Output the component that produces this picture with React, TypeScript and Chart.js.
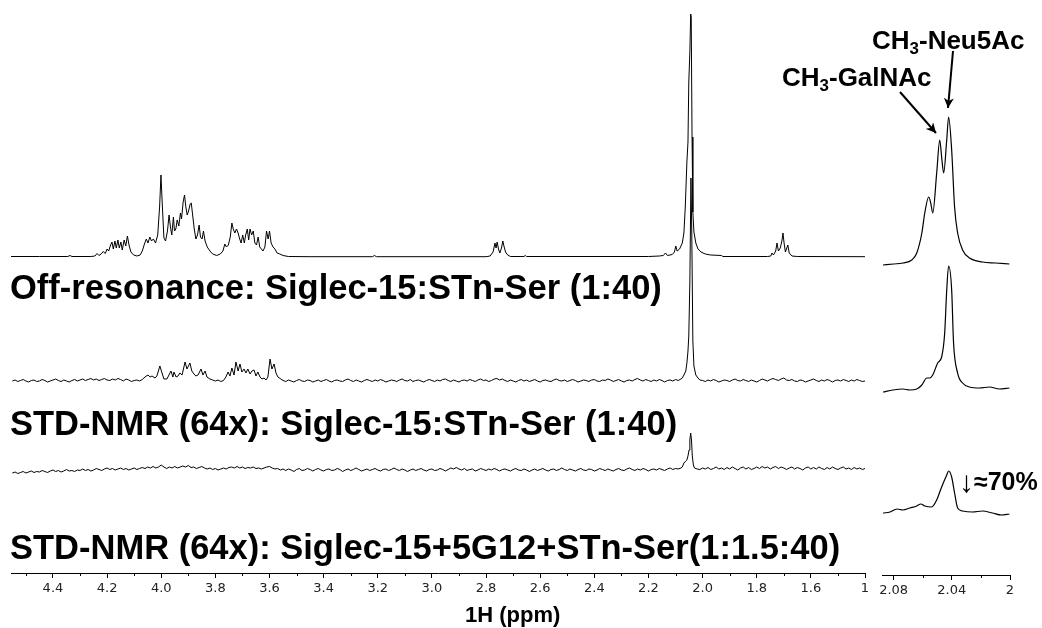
import React, { useEffect, useRef } from "react";
import { Chart, registerables } from "chart.js";
Chart.register(...registerables);

// ---------- axis ticks ----------
const mainTickValues = [4.4, 4.2, 4.0, 3.8, 3.6, 3.4, 3.2, 3.0, 2.8, 2.6, 2.4, 2.2, 2.0, 1.8, 1.6, 1.4];
const mainTickLabels = ["4.4", "4.2", "4.0", "3.8", "3.6", "3.4", "3.2", "3.0", "2.8", "2.6", "2.4", "2.2", "2.0", "1.8", "1.6", "1"];
const mainMinorTicks = [4.5, 4.3, 4.1, 3.9, 3.7, 3.5, 3.3, 3.1, 2.9, 2.7, 2.5, 2.3, 2.1, 1.9, 1.7, 1.5];
const insetTickValues = [2.08, 2.04, 2.0];
const insetTickLabels = ["2.08", "2.04", "2"];
const insetMinorTicks = [2.06, 2.02];

// ---------- spectra: [ppm, intensity] ----------
const offResonance: [number, number][] = [
  [4.555, 0.5], [4.45, 0.5], [4.345, 0.5], [4.337, 1.5], [4.33, 0.5], [4.26, 0.5], [4.245, 1], [4.237, 3.5], [4.23, 1.5],
  [4.222, 3], [4.214, 5.5], [4.207, 3.5], [4.2, 8], [4.194, 6], [4.187, 12], [4.182, 15], [4.177, 8], [4.171, 16],
  [4.166, 9], [4.16, 17], [4.155, 9], [4.149, 15], [4.144, 7], [4.137, 17], [4.131, 11], [4.125, 21], [4.119, 12],
  [4.112, 5], [4.102, 2], [4.09, 1], [4.078, 2], [4.07, 6], [4.062, 13], [4.055, 18], [4.049, 14], [4.042, 20],
  [4.036, 16], [4.029, 18], [4.021, 14], [4.013, 22], [4.006, 50], [4.001, 82], [3.996, 52], [3.99, 19], [3.984, 16],
  [3.977, 26], [3.971, 42], [3.966, 30], [3.961, 22], [3.955, 40], [3.951, 26], [3.946, 28], [3.941, 37], [3.935, 31],
  [3.929, 44], [3.925, 38], [3.919, 55], [3.914, 62], [3.909, 50], [3.904, 42], [3.899, 46], [3.893, 53], [3.889, 54],
  [3.884, 42], [3.878, 28], [3.872, 18], [3.866, 22], [3.86, 32], [3.855, 20], [3.849, 18], [3.844, 26], [3.838, 16],
  [3.83, 10], [3.82, 6], [3.81, 3], [3.795, 1.5], [3.782, 3], [3.772, 6], [3.765, 13], [3.759, 10], [3.752, 12],
  [3.745, 20], [3.739, 34], [3.734, 28], [3.728, 24], [3.722, 28], [3.716, 24], [3.71, 18], [3.705, 14], [3.699, 22],
  [3.693, 14], [3.688, 22], [3.682, 28], [3.677, 17], [3.672, 28], [3.666, 22], [3.66, 26], [3.654, 14], [3.648, 12],
  [3.642, 20], [3.636, 10], [3.63, 8], [3.624, 6], [3.617, 10], [3.611, 26], [3.605, 18], [3.6, 26], [3.594, 14],
  [3.587, 10], [3.58, 8], [3.572, 4], [3.562, 3], [3.55, 1.5], [3.53, 0.5], [3.45, 0.3], [3.22, 0.3], [3.212, 1.5],
  [3.205, 0.3], [2.8, 0.3], [2.785, 1], [2.774, 5], [2.767, 14], [2.763, 9], [2.759, 15], [2.754, 8], [2.749, 4],
  [2.743, 9], [2.738, 16], [2.734, 11], [2.728, 5], [2.72, 2], [2.71, 0.5], [2.66, 0.5], [2.655, 1.5], [2.65, 0.5],
  [2.2, 0.5], [2.16, 1], [2.145, 1.5], [2.137, 4], [2.13, 1.5], [2.112, 2.5], [2.104, 5], [2.099, 11], [2.094, 6],
  [2.085, 8], [2.075, 14], [2.069, 24], [2.064, 50], [2.058, 95], [2.054, 115], [2.051, 175], [2.047, 205],
  [2.044, 243], [2.042, 240], [2.039, 120], [2.036, 45], [2.032, 25], [2.025, 14], [2.017, 8], [2.006, 5], [1.99, 3],
  [1.97, 2], [1.93, 1.5], [1.925, 0.5], [1.76, 0.5], [1.748, 1], [1.744, 4], [1.738, 2], [1.73, 6], [1.725, 14],
  [1.72, 6], [1.713, 9], [1.707, 16], [1.703, 24], [1.699, 14], [1.694, 5], [1.689, 9], [1.685, 12], [1.68, 4],
  [1.67, 1], [1.65, 0.5], [1.4, 0.3],
];

const stdSiglec: [number, number][] = [
  [4.55, 0], [4.54, 1], [4.53, -0.5], [4.52, 0.5], [4.51, 1.5], [4.5, 0], [4.49, -1], [4.48, 0.5], [4.47, 1], [4.46, -0.5],
  [4.45, 0], [4.44, 1.5], [4.43, 0.5], [4.42, -1], [4.41, 0], [4.4, 1], [4.39, 2], [4.38, 0.5], [4.37, -0.5], [4.36, 1],
  [4.35, 0], [4.34, -1], [4.33, 0.5], [4.32, 1.5], [4.31, 0], [4.3, 1], [4.29, 2], [4.28, 0.5], [4.27, 1.5], [4.26, 2.5],
  [4.25, 1], [4.24, 2], [4.23, 0.5], [4.22, 1.5], [4.21, 2.5], [4.2, 1], [4.19, 0.5], [4.18, 2], [4.17, 1], [4.16, 2.5],
  [4.15, 1.5], [4.14, 0], [4.13, 2], [4.12, 1], [4.11, -0.5], [4.1, 0.5], [4.09, 1], [4.08, 0], [4.07, 1.5],
  [4.06, 4], [4.049, 6], [4.041, 4], [4.034, 5], [4.023, 3], [4.016, 5], [4.005, 15], [3.997, 8], [3.99, 2], [3.979, 2],
  [3.964, 10], [3.957, 4], [3.953, 9], [3.945, 4], [3.938, 5], [3.931, 8], [3.923, 6], [3.912, 19], [3.905, 12],
  [3.894, 18], [3.887, 10], [3.879, 7], [3.872, 5], [3.864, 6], [3.853, 12], [3.846, 6], [3.838, 10], [3.831, 4],
  [3.82, 2], [3.81, 1], [3.8, 0], [3.79, 1], [3.78, -0.5], [3.77, 0.5],
  [3.761, 4], [3.753, 9], [3.746, 5], [3.739, 13], [3.731, 6], [3.724, 19], [3.716, 10], [3.709, 17], [3.702, 9],
  [3.694, 12], [3.687, 8], [3.68, 12], [3.672, 7], [3.665, 10], [3.657, 11], [3.65, 5], [3.643, 9], [3.635, 4],
  [3.628, 2], [3.62, 3], [3.613, 1], [3.606, 4], [3.598, 22], [3.591, 12], [3.583, 17], [3.576, 8], [3.569, 4],
  [3.558, 2], [3.55, 0.5],
  [3.54, -0.5], [3.53, 1], [3.52, 0], [3.51, -1], [3.5, 0.5], [3.49, 1.5], [3.48, 0], [3.47, -0.5], [3.46, 1], [3.45, 0.5],
  [3.44, -1], [3.43, 0], [3.42, 1], [3.41, -0.5], [3.4, 0.5], [3.39, 1.5], [3.38, 0], [3.37, -1], [3.36, 0.5], [3.35, 1],
  [3.34, 0], [3.33, -0.5], [3.32, 1], [3.31, 2], [3.3, 0.5], [3.29, -0.5], [3.28, 1], [3.27, 0], [3.26, -1], [3.25, 0.5],
  [3.24, 1.5], [3.23, 0.5], [3.22, -0.5], [3.21, 1], [3.2, 0], [3.19, 1.5], [3.18, 0.5], [3.17, -1], [3.16, 0], [3.15, 1],
  [3.14, 0.5], [3.13, -0.5], [3.12, 1], [3.11, 2], [3.1, 0.5], [3.09, 0], [3.08, 1.5], [3.07, -0.5], [3.06, 0.5], [3.05, 1],
  [3.04, 0], [3.03, -1], [3.02, 0.5], [3.01, 1.5], [3.0, 0.5], [2.99, -0.5], [2.98, 1], [2.97, 0], [2.96, 1.5], [2.95, 2],
  [2.94, 0.5], [2.93, -0.5], [2.92, 1], [2.91, 0], [2.9, -1], [2.89, 0.5], [2.88, 1], [2.87, 0], [2.86, 1.5], [2.85, 0.5],
  [2.84, -0.5], [2.83, 1], [2.82, 2], [2.81, 0.5], [2.8, 1], [2.79, -0.5], [2.78, 0.5], [2.77, 2], [2.76, 2.5], [2.75, 1],
  [2.74, 2], [2.73, 0.5], [2.72, -0.5], [2.71, 1], [2.7, 0], [2.69, -1], [2.68, 0.5], [2.67, 1.5], [2.66, 0], [2.65, 1],
  [2.64, -0.5], [2.63, 0.5], [2.62, 1.5], [2.61, 0], [2.6, -1], [2.59, 0.5], [2.58, 1], [2.57, 0], [2.56, -0.5], [2.55, 1],
  [2.54, 2], [2.53, 0.5], [2.52, 0], [2.51, 1], [2.5, -0.5], [2.49, 0.5], [2.48, 1.5], [2.47, 0.5], [2.46, -1], [2.45, 0],
  [2.44, 1], [2.43, 0.5], [2.42, -0.5], [2.41, 1], [2.4, 1.5], [2.39, 0], [2.38, -0.5], [2.37, 1], [2.36, 0.5], [2.35, 2],
  [2.34, 1], [2.33, -0.5], [2.32, 0.5], [2.31, 1.5], [2.3, 0], [2.29, -1], [2.28, 0.5], [2.27, 1], [2.26, 0], [2.25, 1.5],
  [2.24, 2.5], [2.23, 1], [2.22, 0], [2.21, 1.5], [2.2, 0.5], [2.19, -0.5], [2.18, 1], [2.17, 0], [2.16, 1.5], [2.15, 0.5],
  [2.14, -1], [2.13, 0.5], [2.12, 1], [2.11, 0], [2.1, 1.5], [2.09, 0.5], [2.08, 2],
  [2.075, 3], [2.069, 6], [2.062, 10], [2.058, 18], [2.054, 30], [2.051, 45], [2.047, 100], [2.043, 203], [2.04, 150],
  [2.036, 40], [2.032, 15], [2.025, 6], [2.017, 3], [2.01, 1],
  [2.0, 0.5], [1.99, -0.5], [1.98, 1], [1.97, 0], [1.96, 1.5], [1.95, 0.5], [1.94, -1], [1.93, 0], [1.92, 1], [1.91, 0.5],
  [1.9, -0.5], [1.89, 1], [1.88, 2], [1.87, 0.5], [1.86, 0], [1.85, 1.5], [1.84, 0.5], [1.83, -0.5], [1.82, 1], [1.81, 0],
  [1.8, -1], [1.79, 0.5], [1.78, 2], [1.77, 1], [1.76, 0], [1.75, 1.5], [1.74, 2.5], [1.73, 1.5], [1.72, 0.5], [1.71, 2],
  [1.7, 3], [1.69, 1], [1.68, 0.5], [1.67, 1.5], [1.66, 0], [1.65, -0.5], [1.64, 1], [1.63, 0.5], [1.62, -1], [1.61, 0],
  [1.6, 1], [1.59, 2], [1.58, 0.5], [1.57, -0.5], [1.56, 1], [1.55, 0], [1.54, 1.5], [1.53, 0.5], [1.52, -1], [1.51, 0.5],
  [1.5, 1], [1.49, 0], [1.48, 1.5], [1.47, 0.5], [1.46, -0.5], [1.45, 1], [1.44, 0], [1.43, 1.5], [1.42, 0.5], [1.41, -0.5],
  [1.4, 0],
];

const stdSiglec5G12: [number, number][] = [
  [4.55, -3], [4.54, -2], [4.53, -3.5], [4.52, -2.5], [4.51, -1.5], [4.5, -3], [4.49, -2], [4.48, -1], [4.47, -2.5],
  [4.46, -1.5], [4.45, -2], [4.44, -0.5], [4.43, -1.5], [4.42, -2.5], [4.41, -1], [4.4, 0], [4.39, -1.5], [4.38, -0.5],
  [4.37, -2], [4.36, -1], [4.35, 0.5], [4.34, -1], [4.33, -0.5], [4.32, -1.5], [4.31, 0], [4.3, -0.5], [4.29, 1],
  [4.28, -0.5], [4.27, 0.5], [4.26, -1], [4.25, 0], [4.24, 1.5], [4.23, 0.5], [4.22, -0.5], [4.21, 1], [4.2, 2],
  [4.19, 0.5], [4.18, 1.5], [4.17, 0], [4.16, 1], [4.15, 2], [4.14, 0.5], [4.13, 1.5], [4.12, 0], [4.11, 1], [4.1, 2],
  [4.09, 0.5], [4.08, 1.5], [4.07, 2.5],
  [4.06, 1.5], [4.05, 3], [4.04, 2], [4.03, 3.5], [4.02, 2], [4.01, 3], [4.0, 5], [3.99, 3], [3.98, 1.5], [3.97, 3],
  [3.96, 2], [3.95, 3.5], [3.94, 2], [3.93, 3], [3.92, 4], [3.91, 3], [3.9, 4.5], [3.89, 2.5], [3.88, 3], [3.87, 1.5],
  [3.86, 2.5], [3.85, 3.5], [3.84, 2], [3.83, 1], [3.82, 2], [3.81, 0.5], [3.8, 1.5], [3.79, 0], [3.78, 1], [3.77, 2],
  [3.76, 1], [3.75, 2.5], [3.74, 3], [3.73, 2], [3.72, 3.5], [3.71, 2], [3.7, 3], [3.69, 1.5], [3.68, 2.5], [3.67, 2],
  [3.66, 3], [3.65, 1.5], [3.64, 2], [3.63, 1], [3.62, 2], [3.61, 3], [3.6, 3.5], [3.59, 2], [3.58, 1], [3.57, 1.5],
  [3.56, 0], [3.55, 1],
  [3.54, -0.5], [3.53, 1], [3.52, 0], [3.51, -1.5], [3.5, 0.5], [3.49, 1.5], [3.48, -0.5], [3.47, 0], [3.46, 1.5],
  [3.45, 0.5], [3.44, -1], [3.43, 0.5], [3.42, 1.5], [3.41, 0], [3.4, -1], [3.39, 0.5], [3.38, 1], [3.37, -0.5], [3.36, 0],
  [3.35, 1.5], [3.34, 0.5], [3.33, -1.5], [3.32, 0], [3.31, 1], [3.3, -0.5], [3.29, 0.5], [3.28, 2], [3.27, 0.5],
  [3.26, -1], [3.25, 0], [3.24, 1], [3.23, -0.5], [3.22, 0.5], [3.21, 1.5], [3.2, 0], [3.19, -1], [3.18, 0.5], [3.17, 1],
  [3.16, -0.5], [3.15, 0.5], [3.14, 2], [3.13, 0.5], [3.12, -0.5], [3.11, 1], [3.1, 0], [3.09, -1.5], [3.08, 0], [3.07, 1],
  [3.06, -0.5], [3.05, 0.5], [3.04, 1.5], [3.03, 0], [3.02, -1], [3.01, 0.5], [3.0, 1], [2.99, -0.5], [2.98, 0],
  [2.97, 1.5], [2.96, 0.5], [2.95, -1], [2.94, 0.5], [2.93, 2], [2.92, 1], [2.91, 2.5], [2.9, 1], [2.89, 0], [2.88, 1.5],
  [2.87, -0.5], [2.86, 0.5], [2.85, 1], [2.84, -1], [2.83, 0], [2.82, 1.5], [2.81, 0.5], [2.8, -0.5], [2.79, 1], [2.78, 0],
  [2.77, 1.5], [2.76, 0.5], [2.75, -1], [2.74, 0.5], [2.73, 1], [2.72, 0], [2.71, -1], [2.7, 0.5], [2.69, 1.5], [2.68, 0],
  [2.67, -0.5], [2.66, 1], [2.65, 0], [2.64, -1.5], [2.63, 0], [2.62, 1], [2.61, -0.5], [2.6, 0.5], [2.59, 1.5], [2.58, 0],
  [2.57, -1], [2.56, 0.5], [2.55, 1], [2.54, -0.5], [2.53, 0.5], [2.52, 2], [2.51, 0.5], [2.5, -0.5], [2.49, 1], [2.48, 0],
  [2.47, -1], [2.46, 0.5], [2.45, 1.5], [2.44, 0], [2.43, -0.5], [2.42, 1], [2.41, 0.5], [2.4, -1], [2.39, 0], [2.38, 1.5],
  [2.37, 0.5], [2.36, -0.5], [2.35, 1], [2.34, 0], [2.33, -1], [2.32, 0.5], [2.31, 1.5], [2.3, 0], [2.29, -0.5], [2.28, 1],
  [2.27, 2], [2.26, 0.5], [2.25, -0.5], [2.24, 1], [2.23, 0], [2.22, 1.5], [2.21, 0.5], [2.2, -1], [2.19, 0.5], [2.18, 1],
  [2.17, 0], [2.16, 1.5], [2.15, 0.5], [2.14, -0.5], [2.13, 1], [2.12, 2], [2.11, 0.5], [2.1, 1.5], [2.09, 1],
  [2.08, 2], [2.075, 3], [2.069, 7], [2.062, 9], [2.058, 10], [2.054, 14], [2.05, 20], [2.047, 30], [2.044, 37],
  [2.041, 30], [2.038, 14], [2.034, 5], [2.03, 2], [2.02, 1],
  [2.01, 0.5], [2.0, 2], [1.99, 1], [1.98, 2.5], [1.97, 0.5], [1.96, 1.5], [1.95, 3], [1.94, 1], [1.93, 2], [1.92, 0.5],
  [1.91, 2.5], [1.9, 1], [1.89, 3], [1.88, 1.5], [1.87, 0], [1.86, 2], [1.85, 3], [1.84, 1], [1.83, 2.5], [1.82, 0.5],
  [1.81, 1.5], [1.8, 3], [1.79, 1.5], [1.78, 3.5], [1.77, 2], [1.76, 3], [1.75, 1], [1.74, 2.5], [1.73, 3.5], [1.72, 1.5],
  [1.71, 3], [1.7, 2], [1.69, 0.5], [1.68, 2], [1.67, 3], [1.66, 1], [1.65, 2.5], [1.64, 1.5], [1.63, 0], [1.62, 2],
  [1.61, 3], [1.6, 1], [1.59, 2.5], [1.58, 1], [1.57, 3], [1.56, 1.5], [1.55, 0.5], [1.54, 2.5], [1.53, 1], [1.52, 3],
  [1.51, 1.5], [1.5, 0.5], [1.49, 2], [1.48, 3], [1.47, 1], [1.46, 2], [1.45, 0.5], [1.44, 2.5], [1.43, 1], [1.42, 2],
  [1.41, 0.5], [1.4, 1.5],
];

// inset (2.088 - 2.000 ppm)
const insetOffResonance: [number, number][] = [
  [2.0873, -1], [2.08, 0], [2.0736, 1], [2.0675, 4], [2.0641, 11], [2.0606, 31], [2.0586, 51], [2.0559, 67],
  [2.0545, 61], [2.0531, 51], [2.0504, 91], [2.0483, 124], [2.047, 107], [2.0456, 91], [2.0435, 124], [2.0422, 147],
  [2.0401, 114], [2.0381, 57], [2.036, 31], [2.0326, 14], [2.0278, 6], [2.0189, 2], [2.01, 1], [2.0004, 0],
];
const insetStdSiglec: [number, number][] = [
  [2.0873, -3], [2.0805, -1], [2.0736, 0], [2.0688, -1], [2.0641, 0], [2.0606, 4], [2.0572, 11], [2.0552, 11],
  [2.0531, 14], [2.0497, 26], [2.047, 32], [2.0449, 56], [2.0435, 99], [2.0422, 123], [2.0401, 99], [2.0388, 46],
  [2.036, 16], [2.0326, 6], [2.0278, 2], [2.021, 1], [2.0141, 2], [2.0073, 0], [2.0004, 1],
];
const insetStdSiglec5G12: [number, number][] = [
  [2.0873, 0], [2.0825, 1], [2.0777, 4], [2.0736, 3], [2.0688, 5], [2.0641, 7], [2.0613, 9], [2.0586, 7], [2.0538, 6],
  [2.0504, 13], [2.047, 26], [2.0435, 38], [2.0422, 42], [2.0401, 36], [2.0381, 20], [2.036, 5], [2.0326, 2],
  [2.0258, 1], [2.0189, 2], [2.0121, 0], [2.0059, -2], [2.0004, -1],
];

// ---------- layout constants ----------
const W = 1042;
const H = 628;
const MAIN_BOTTOM = 573;
const INSET_BOTTOM = 575;
const MAIN_OFFSETS = [316, 192, 103];
const INSET_OFFSETS = [311, 186, 62];

function minorTickPlugin(values: number[]) {
  return {
    id: "minorTicks",
    afterDraw(chart: any) {
      const s = chart.scales.x;
      const ctx = chart.ctx;
      ctx.save();
      ctx.strokeStyle = "#000";
      ctx.lineWidth = 1;
      values.forEach((v) => {
        const x = Math.round(s.getPixelForValue(v)) + 0.5;
        ctx.beginPath();
        ctx.moveTo(x, s.top);
        ctx.lineTo(x, s.top + 3);
        ctx.stroke();
      });
      ctx.restore();
    },
  };
}

function makeConfig(o: {
  series: [number, number][][];
  offsets: number[];
  xmin: number;
  xmax: number;
  ticks: number[];
  labels: string[];
  minor: number[];
  padLeft: number;
  padRight: number;
  bottom: number;
  smooth: boolean;
  lineWidth: number;
}): any {
  const datasets = o.series.map((s, i) => ({
    data: s.map(([x, y]) => ({ x, y: y + o.offsets[i] })),
    borderColor: "#000",
    borderWidth: o.lineWidth,
    borderJoinStyle: "round",
    pointRadius: 0,
    fill: false,
    tension: o.smooth ? 0.4 : 0,
    cubicInterpolationMode: o.smooth ? "monotone" : "default",
  }));
  return {
    type: "line",
    data: { datasets },
    options: {
      animation: false,
      responsive: false,
      events: [],
      layout: { padding: { left: o.padLeft, right: o.padRight, top: 0, bottom: 0 } },
      plugins: { legend: { display: false }, tooltip: { enabled: false }, title: { display: false } },
      scales: {
        x: {
          type: "linear",
          reverse: true,
          min: o.xmin,
          max: o.xmax,
          afterBuildTicks: (s: any) => {
            s.ticks = o.ticks.map((v) => ({ value: v }));
          },
          afterFit: (s: any) => {
            s.height = H - o.bottom;
          },
          ticks: {
            autoSkip: false,
            maxRotation: 0,
            minRotation: 0,
            padding: 3,
            color: "#222",
            font: { family: "'DejaVu Sans', Verdana, sans-serif", size: 13 },
            callback: (_v: any, i: number) => o.labels[i],
          },
          grid: { drawOnChartArea: false, drawTicks: true, tickLength: 5, tickColor: "#000", tickWidth: 1 },
          border: { display: true, color: "#000", width: 1 },
        },
        y: { type: "linear", display: false, min: 0, max: o.bottom },
      },
    },
    plugins: [minorTickPlugin(o.minor)],
  };
}

const bold: React.CSSProperties = {
  position: "absolute",
  fontWeight: "bold",
  whiteSpace: "nowrap",
  lineHeight: "1",
  color: "#000",
};
const sub: React.CSSProperties = { fontSize: "0.65em", verticalAlign: "-0.28em", lineHeight: 0 };

export default function App() {
  const mainRef = useRef<HTMLCanvasElement>(null);
  const insetRef = useRef<HTMLCanvasElement>(null);

  useEffect(() => {
    document.body.style.margin = "0";
    const c1 = new Chart(
      mainRef.current as HTMLCanvasElement,
      makeConfig({
        series: [offResonance, stdSiglec, stdSiglec5G12],
        offsets: MAIN_OFFSETS,
        xmin: 1.4,
        xmax: 4.555,
        ticks: mainTickValues,
        labels: mainTickLabels,
        minor: mainMinorTicks,
        padLeft: 11,
        padRight: W - 865,
        bottom: MAIN_BOTTOM,
        smooth: false,
        lineWidth: 1,
      })
    );
    const c2 = new Chart(
      insetRef.current as HTMLCanvasElement,
      makeConfig({
        series: [insetOffResonance, insetStdSiglec, insetStdSiglec5G12],
        offsets: INSET_OFFSETS,
        xmin: 2.0,
        xmax: 2.088,
        ticks: insetTickValues,
        labels: insetTickLabels,
        minor: insetMinorTicks,
        padLeft: 882,
        padRight: W - 1010,
        bottom: INSET_BOTTOM,
        smooth: true,
        lineWidth: 1.2,
      })
    );
    return () => {
      c1.destroy();
      c2.destroy();
    };
  }, []);

  const fam = "'Liberation Sans', Arial, Helvetica, sans-serif";
  return (
    <div style={{ position: "relative", width: W, height: H, overflow: "hidden", background: "#fff", fontFamily: fam }}>
      <canvas ref={mainRef} width={W} height={H} style={{ position: "absolute", left: 0, top: 0 }} />
      <canvas ref={insetRef} width={W} height={H} style={{ position: "absolute", left: 0, top: 0 }} />
      <svg width={W} height={H} style={{ position: "absolute", left: 0, top: 0 }}>
        <defs>
          <marker id="ah" viewBox="0 0 10 10" refX="10" refY="5" markerWidth="5" markerHeight="5" orient="auto" markerUnits="strokeWidth">
            <path d="M0,0 L10,5 L0,10 L3,5 z" fill="#000" />
          </marker>
        </defs>
        <line x1={953} y1={51} x2={948} y2={108} stroke="#000" strokeWidth={2} markerEnd="url(#ah)" />
        <line x1={900} y1={92} x2={936} y2={133} stroke="#000" strokeWidth={2} markerEnd="url(#ah)" />
      </svg>
      <div style={{ ...bold, left: 10, top: 270, fontSize: 34.5 }}>Off-resonance: Siglec-15:STn-Ser (1:40)</div>
      <div style={{ ...bold, left: 10, top: 406, fontSize: 34.5 }}>STD-NMR (64x): Siglec-15:STn-Ser (1:40)</div>
      <div style={{ ...bold, left: 10, top: 530, fontSize: 34.5 }}>STD-NMR (64x): Siglec-15+5G12+STn-Ser(1:1.5:40)</div>
      <div style={{ ...bold, left: 872, top: 27, fontSize: 26 }}>
        CH<span style={sub}>3</span>-Neu5Ac
      </div>
      <div style={{ ...bold, left: 782, top: 64, fontSize: 26 }}>
        CH<span style={sub}>3</span>-GalNAc
      </div>
      <div style={{ ...bold, left: 959, top: 467, fontSize: 25 }}>
        <span style={{ fontWeight: "normal", fontSize: "1.2em", verticalAlign: "-0.08em" }}>↓</span>≈70%
      </div>
      <div style={{ ...bold, left: 465, top: 604, fontSize: 22 }}>1H (ppm)</div>
    </div>
  );
}
